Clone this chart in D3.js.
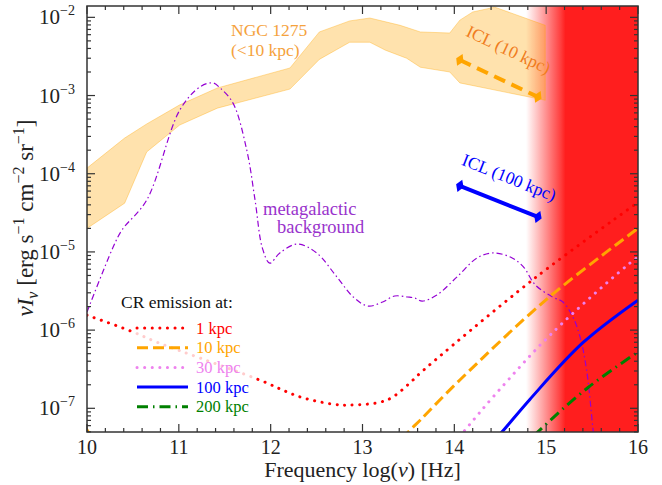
<!DOCTYPE html>
<html>
<head>
<meta charset="utf-8">
<script src="https://cdn.jsdelivr.net/npm/d3@7"></script>
<style>
  body { margin: 0; background: #fff; }
  svg { font-family: "Liberation Serif", "DejaVu Serif", serif; }
</style>
</head>
<body>
<div id="chart"></div>
<script>
// log10(nu) positions and nuI_nu values
const ngcUpperNu = [10.0, 10.41, 10.65, 11.01, 11.42, 12.21, 12.53, 12.86, 13.08, 13.41, 13.63, 13.95, 14.06, 14.20, 14.44, 14.77, 14.99];
const ngcUpper = [1.18e-4, 2.86e-4, 4.33e-4, 7.6e-4, 1.25e-3, 2.25e-3, 6.5e-3, 9.0e-3, 9.8e-3, 7.9e-3, 6.5e-3, 6.3e-3, 9.2e-3, 1.17e-2, 1.35e-2, 9.8e-3, 7.9e-3];
const ngcLowerNu = [10.0, 10.41, 10.65, 11.01, 11.42, 12.21, 12.53, 12.86, 13.08, 13.25, 13.48, 13.63, 13.95, 14.06, 14.99];
const ngcLower = [2.0e-5, 4.2e-5, 1.9e-4, 4.2e-4, 6.9e-4, 1.21e-3, 2.9e-3, 4.8e-3, 4.8e-3, 3.8e-3, 3.0e-3, 2.3e-3, 2.0e-3, 1.45e-3, 8.7e-4];

const mgbNu = [10.0, 10.28, 10.38, 10.65, 11.01, 11.23, 11.37, 11.45, 11.59, 11.74, 11.83, 11.91, 11.99, 12.10, 12.29, 12.50, 12.72, 12.90, 13.06, 13.22, 13.35, 13.49, 13.57, 13.65, 13.81, 14.03, 14.25, 14.42, 14.61, 14.75, 14.88, 15.07, 15.18, 15.29, 15.37, 15.44, 15.51, 15.55];
const mgb = [1.7e-6, 1.12e-5, 1.9e-5, 4.6e-5, 6.5e-4, 1.29e-3, 1.45e-3, 1.25e-3, 8.0e-4, 2.0e-4, 4.6e-5, 1.12e-5, 7.2e-6, 9.7e-6, 1.26e-5, 9.7e-6, 4.8e-6, 2.65e-6, 2.03e-6, 2.29e-6, 2.73e-6, 2.65e-6, 2.57e-6, 2.35e-6, 2.81e-6, 4.8e-6, 8.4e-6, 9.7e-6, 8.6e-6, 6.5e-6, 3.8e-6, 2.65e-6, 2.3e-6, 1.48e-6, 8.1e-7, 3.1e-7, 5.4e-8, 2.0e-8];

const crLabels = ["1 kpc", "10 kpc", "30 kpc", "100 kpc", "200 kpc"];
const crColors = ["#ff0000", "#ffa500", "#ee82ee", "#0000ff", "#008000"];
const crDash = ["0.1 7.5", "11 5", "0.1 7.5", null, "11 5 1.5 5"];
const crNu = [
    [10.0, 10.45, 10.79, 11.23, 11.88, 12.32, 12.68, 12.86, 13.27, 13.55, 13.63, 14.88, 16.0],
    [9.95, 10.0, 10.1, 13.3, 13.5, 13.63, 14.06, 15.02, 16.0],
    [13.9, 14.10, 14.46, 15.07, 15.95, 16.0],
    [14.3, 14.52, 14.82, 15.40, 16.0],
    [14.7, 14.91, 15.46, 16.0]
];
const crVal = [
    [1.55e-6, 1.0e-6, 6.8e-7, 4.4e-7, 2.3e-7, 1.4e-7, 1.13e-7, 1.1e-7, 1.28e-7, 2.3e-7, 2.83e-7, 4.65e-6, 4.3e-5],
    [6.0e-8, 5.3e-8, 3.6e-8, 2.8e-8, 5.0e-8, 7.1e-8, 2.3e-7, 2.57e-6, 2.0e-5],
    [2.6e-8, 5.0e-8, 1.57e-7, 9.3e-7, 7.8e-6, 8.5e-6],
    [2.6e-8, 5.0e-8, 1.29e-7, 6.9e-7, 2.42e-6],
    [2.8e-8, 5.0e-8, 1.86e-7, 5.25e-7]
];

const iclNu = [14.06, 14.91];
const icl10 = [2.85e-3, 9.6e-4];
const icl100 = [7.0e-5, 2.8e-5];

const xTicks = [10, 11, 12, 13, 14, 15, 16];
const yTickExp = [-7, -6, -5, -4, -3, -2];

// opacity ramp of the UV band, at log(nu)
const uvStopsNu = [14.78, 14.88, 14.98, 15.08, 15.16, 15.21];
const uvStopsAlpha = [0, 0.22, 0.45, 0.68, 0.86, 1];

const width = 662, height = 485;
const margin = { top: 6, right: 24, bottom: 53, left: 87 };
const x0 = margin.left, x1 = width - margin.right, y0 = height - margin.bottom, y1 = margin.top;

const svg = d3.select("#chart").append("svg")
    .attr("width", width)
    .attr("height", height);

const x = d3.scaleLinear().domain([10, 16]).range([x0, x1]);
const y = d3.scaleLog().domain([Math.pow(10, -7.303), Math.pow(10, -1.855)]).range([y0, y1]);

const defs = svg.append("defs");
defs.append("clipPath").attr("id", "clip")
    .append("rect").attr("x", x0).attr("y", y1).attr("width", x1 - x0).attr("height", y0 - y1);

// UV shading
const gx0 = x(uvStopsNu[0]), gx1 = x(uvStopsNu[uvStopsNu.length - 1]);
const grad = defs.append("linearGradient").attr("id", "uv")
    .attr("gradientUnits", "userSpaceOnUse")
    .attr("x1", gx0).attr("x2", gx1).attr("y1", 0).attr("y2", 0);
uvStopsNu.forEach((n, i) => {
    grad.append("stop").attr("offset", (x(n) - gx0) / (gx1 - gx0))
        .attr("stop-color", "#ff1e1e").attr("stop-opacity", uvStopsAlpha[i]);
});

const plot = svg.append("g").attr("clip-path", "url(#clip)");

plot.append("rect")
    .attr("x", gx0).attr("y", y1)
    .attr("width", x(16) - gx0).attr("height", y0 - y1)
    .attr("fill", "url(#uv)");

// NGC 1275 band
const band = ngcUpperNu.map((n, i) => [n, ngcUpper[i]])
    .concat(ngcLowerNu.map((n, i) => [n, ngcLower[i]]).reverse());
plot.append("path")
    .attr("d", d3.line().x(d => x(d[0])).y(d => y(d[1]))(band) + "Z")
    .attr("fill", "#ffa500")
    .attr("fill-opacity", 0.32)
    .attr("stroke", "#ffa500")
    .attr("stroke-opacity", 0.35)
    .attr("stroke-width", 1);

// metagalactic background
const line = d3.line().x(d => x(d[0])).y(d => y(d[1])).curve(d3.curveCatmullRom.alpha(0.5));
plot.append("path")
    .attr("d", line(mgbNu.map((n, i) => [n, mgb[i]])))
    .attr("fill", "none")
    .attr("stroke", "#9400d3")
    .attr("stroke-width", 1.2)
    .attr("stroke-dasharray", "6 3 1.5 3");

// CR emission curves
crNu.forEach((nus, k) => {
    plot.append("path")
        .attr("d", line(nus.map((n, i) => [n, crVal[k][i]])))
        .attr("fill", "none")
        .attr("stroke", crColors[k])
        .attr("stroke-width", 3)
        .attr("stroke-linecap", crDash[k] && crDash[k].startsWith("0.1") ? "round" : "butt")
        .attr("stroke-dasharray", crDash[k]);
});

// ICL segments with diamond ends
function iclSegment(vals, color, dash) {
    const p = iclNu.map((n, i) => [x(n), y(vals[i])]);
    const ang = Math.atan2(p[1][1] - p[0][1], p[1][0] - p[0][0]) * 180 / Math.PI;
    svg.append("line")
        .attr("x1", p[0][0]).attr("y1", p[0][1])
        .attr("x2", p[1][0]).attr("y2", p[1][1])
        .attr("stroke", color).attr("stroke-width", 4)
        .attr("stroke-dasharray", dash);
    p.forEach(q => {
        svg.append("path")
            .attr("d", "M4,0L0,-6.5L-4,0L0,6.5Z")
            .attr("transform", `translate(${q[0]},${q[1]}) rotate(${ang})`)
            .attr("fill", color);
    });
    return ang;
}
const a10 = iclSegment(icl10, "#ffa500", "12 7");
const a100 = iclSegment(icl100, "#0000ff", null);

// annotations
svg.append("text").attr("x", 231).attr("y", 36).attr("fill", "#f5a23c")
    .attr("font-size", "17.5px").text("NGC 1275");
svg.append("text").attr("x", 231).attr("y", 56).attr("fill", "#f5a23c")
    .attr("font-size", "17.5px").text("(<10 kpc)");
svg.append("text").attr("transform", `translate(506,55) rotate(${a10})`)
    .attr("text-anchor", "middle").attr("fill", "#f07c20")
    .attr("font-size", "17.5px").text("ICL (10 kpc)");
svg.append("text").attr("transform", `translate(507,183) rotate(${a100})`)
    .attr("text-anchor", "middle").attr("fill", "#0000ff")
    .attr("font-size", "17.5px").text("ICL (100 kpc)");
svg.append("text").attr("x", 263).attr("y", 215).attr("fill", "#9933cc")
    .attr("font-size", "18.5px").text("metagalactic");
svg.append("text").attr("x", 277).attr("y", 233).attr("fill", "#9933cc")
    .attr("font-size", "18.5px").text("background");

// legend
svg.append("rect")
    .attr("x", 134).attr("y", 316).attr("width", 122).attr("height", 102)
    .attr("fill", "#fff").attr("fill-opacity", 0.8);
svg.append("text").attr("x", 121).attr("y", 308).attr("fill", "#111")
    .attr("font-size", "17.5px").text("CR emission at:");
const legend = svg.append("g").attr("class", "legend");
crLabels.forEach((label, i) => {
    const row = legend.append("g").attr("transform", `translate(0, ${328 + i * 19.7})`);
    row.append("line")
        .attr("x1", 137).attr("x2", 188)
        .attr("stroke", crColors[i]).attr("stroke-width", 3)
        .attr("stroke-linecap", crDash[i] && crDash[i].startsWith("0.1") ? "round" : "butt")
        .attr("stroke-dasharray", crDash[i]);
    row.append("text")
        .attr("x", 196).attr("y", 5.5)
        .attr("fill", crColors[i])
        .attr("font-size", "16.5px")
        .text(label);
});

// axes frame and ticks (inward on all four sides)
const axisColor = "#333";
svg.append("rect").attr("x", x0).attr("y", y1).attr("width", x1 - x0).attr("height", y0 - y1)
    .attr("fill", "none").attr("stroke", axisColor).attr("stroke-width", 1.5);

const xMinor = d3.range(10, 16.001, 0.2).filter(v => Math.abs(v - Math.round(v)) > 0.01);
const ticks = svg.append("g").attr("stroke", axisColor).attr("stroke-width", 1.2);
xTicks.forEach(v => {
    ticks.append("line").attr("x1", x(v)).attr("x2", x(v)).attr("y1", y0).attr("y2", y0 - 8);
    ticks.append("line").attr("x1", x(v)).attr("x2", x(v)).attr("y1", y1).attr("y2", y1 + 8);
});
xMinor.forEach(v => {
    ticks.append("line").attr("x1", x(v)).attr("x2", x(v)).attr("y1", y0).attr("y2", y0 - 4);
    ticks.append("line").attr("x1", x(v)).attr("x2", x(v)).attr("y1", y1).attr("y2", y1 + 4);
});
const yMinor = [];
d3.range(-8, -1).forEach(e => d3.range(2, 10).forEach(m => {
    const v = m * Math.pow(10, e);
    if (v > y.domain()[0] && v < y.domain()[1]) yMinor.push(v);
}));
yTickExp.forEach(e => {
    const v = Math.pow(10, e);
    ticks.append("line").attr("x1", x0).attr("x2", x0 + 8).attr("y1", y(v)).attr("y2", y(v));
    ticks.append("line").attr("x1", x1).attr("x2", x1 - 8).attr("y1", y(v)).attr("y2", y(v));
});
yMinor.forEach(v => {
    ticks.append("line").attr("x1", x0).attr("x2", x0 + 4).attr("y1", y(v)).attr("y2", y(v));
    ticks.append("line").attr("x1", x1).attr("x2", x1 - 4).attr("y1", y(v)).attr("y2", y(v));
});

// tick labels
svg.append("g").selectAll("text").data(xTicks).join("text")
    .attr("x", d => x(d)).attr("y", y0 + 22)
    .attr("text-anchor", "middle").attr("font-size", "20px").attr("fill", "#222")
    .text(d => d);

yTickExp.forEach(e => {
    const t = svg.append("text")
        .attr("x", x0 - 12).attr("y", y(Math.pow(10, e)) + 7)
        .attr("text-anchor", "end").attr("font-size", "21px").attr("fill", "#222");
    t.append("tspan").text("10");
    t.append("tspan").attr("dy", -9).attr("font-size", "14px").text("\u2212" + Math.abs(e));
});

// axis titles
const xl = svg.append("text").attr("x", (x0 + x1) / 2).attr("y", 477)
    .attr("text-anchor", "middle").attr("font-size", "22px").attr("fill", "#222");
xl.append("tspan").text("Frequency log(");
xl.append("tspan").attr("font-style", "italic").text("\u03bd");
xl.append("tspan").text(") [Hz]");

const yl = svg.append("text")
    .attr("transform", "translate(33,218) rotate(-90)")
    .attr("text-anchor", "middle").attr("font-size", "23px").attr("fill", "#222");
yl.append("tspan").attr("font-style", "italic").text("\u03bdI");
yl.append("tspan").attr("font-style", "italic").attr("font-size", "16px").attr("dy", 5).text("\u03bd");
yl.append("tspan").attr("dy", -5).text(" [erg s");
yl.append("tspan").attr("font-size", "16px").attr("dy", -9).text("\u22121");
yl.append("tspan").attr("dy", 9).text(" cm");
yl.append("tspan").attr("font-size", "16px").attr("dy", -9).text("\u22122");
yl.append("tspan").attr("dy", 9).text(" sr");
yl.append("tspan").attr("font-size", "16px").attr("dy", -9).text("\u22121");
yl.append("tspan").attr("dy", 9).text("]");
</script>
</body>
</html>
